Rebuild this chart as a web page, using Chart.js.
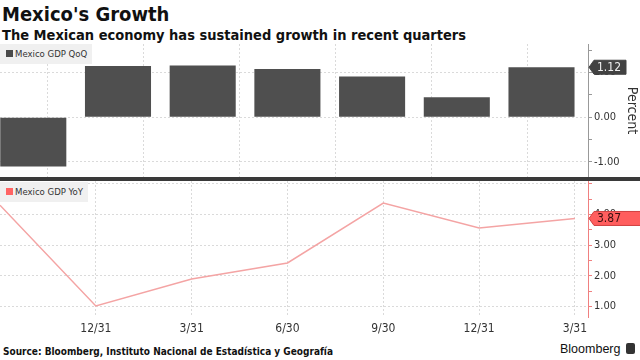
<!DOCTYPE html>
<html>
<head>
<meta charset="utf-8">
<script src="https://cdn.jsdelivr.net/npm/chart.js@4.4.0/dist/chart.umd.min.js"></script>
<style>
  body { margin: 0; width: 640px; height: 360px; background: #fff; position: relative; overflow: hidden;
         font-family: 'DejaVu Sans Condensed', 'DejaVu Sans', sans-serif; font-stretch: condensed; color: #222; }
  .abs { position: absolute; white-space: nowrap; }
  #title { left: 2px; top: 3px; font-weight: bold; font-size: 20px; line-height: 22px; color: #111; }
  #subtitle { left: 2px; top: 27px; font-weight: bold; font-size: 14.5px; line-height: 17px; color: #111; }
  #source { left: 3px; top: 346px; font-weight: bold; font-size: 10px; line-height: 12px; color: #111; }
  #brand { left: 560px; top: 342px; font-family: 'Liberation Sans', Arial, sans-serif; font-stretch: normal; font-size: 12.5px; line-height: 14px; color: #111; }
  #brand span { display: inline-block; width: 9px; height: 11px; background: #333; border-radius: 2px; margin-left: 6px; vertical-align: -1px; }
  #sep { left: 0; top: 177px; width: 640px; height: 4px; background: #3a3a3a; }
  .legend { height: 20px; background: #f0f0f0; font-size: 9.5px; line-height: 20px; color: #333; padding: 0 5px 0 6px; }
  .legend i { display: inline-block; width: 7px; height: 7px; margin-right: 2px; vertical-align: 0px; }
  canvas { position: absolute; left: 0; }
</style>
</head>
<body>
<div id="title" class="abs">Mexico's Growth</div>
<div id="subtitle" class="abs">The Mexican economy has sustained growth in recent quarters</div>

<canvas id="top" width="640" height="133" style="top:44px"></canvas>
<div id="sep" class="abs"></div>
<canvas id="bottom" width="640" height="159" style="top:181px"></canvas>

<div class="abs legend" style="left:0;top:44px"><i style="background:#4a4a4a"></i>Mexico GDP QoQ</div>
<div class="abs legend" style="left:0;top:182px"><i style="background:#ff6464"></i>Mexico GDP YoY</div>

<div id="source" class="abs">Source: Bloomberg, Instituto Nacional de Estadística y Geografía</div>
<div id="brand" class="abs">Bloomberg<span></span></div>

<script>
// quarter ends, oldest first (first one sits on the left edge, unlabeled)
const quarters = ['9/30', '12/31', '3/31', '6/30', '9/30', '12/31', '3/31'];
const gdpQoQ = [-1.10, 1.15, 1.16, 1.08, 0.91, 0.45, 1.12];
const gdpYoY = [4.30, 1.02, 1.90, 2.42, 4.37, 3.56, 3.87];

const fontFam = "'DejaVu Sans Condensed', 'DejaVu Sans', sans-serif";
const isInt = v => Math.abs(v - Math.round(v)) < 1e-6;
const halfSteps = a => { a.ticks = a.ticks.filter(t => isInt(t.value * 2)); };
const quarterTicks = a => { a.ticks = a.ticks.filter(t => isInt(t.value) && t.value > 0); };
// fixed-width right axis, no extra room reserved for the end labels
const rightAxisFit = s => { s.width = 52; s.paddingTop = 0; s.paddingBottom = 0; };
// whole numbers only, and nothing squeezed against the top edge
function axisLabel(v) { return isInt(v) && this.max - v > 0.25 ? v.toFixed(2) : ''; }

// small last-value tag sitting on the right axis
const lastTag = {
  id: 'lastTag',
  afterDraw(chart, args, o) {
    const pts = chart.data.datasets[0].data;
    const v = pts[pts.length - 1].y;
    const y = chart.scales.y.getPixelForValue(v);
    const x = chart.chartArea.right + 1;
    const c = chart.ctx;
    const h = 14, w = o.width;
    c.save();
    c.beginPath();
    c.moveTo(x, y);
    c.lineTo(x + 5, y - h / 2);
    c.lineTo(x + w, y - h / 2);
    c.lineTo(x + w, y + h / 2);
    c.lineTo(x + 5, y + h / 2);
    c.closePath();
    c.fillStyle = o.fill;
    c.fill();
    c.strokeStyle = o.stroke;
    c.lineWidth = 1;
    c.stroke();
    c.fillStyle = o.text;
    c.font = '12px ' + fontFam;
    c.textBaseline = 'middle';
    c.fillText(v.toFixed(2), x + 8, y + 0.5);
    c.restore();
  }
};

const gridColor = '#dadada';

new Chart(document.getElementById('top'), {
  type: 'bar',
  data: {
    datasets: [{
      data: gdpQoQ.map((v, i) => ({ x: i, y: v })),
      xAxisID: 'x',
      backgroundColor: '#4f4f4f',
      borderWidth: 0,
      barPercentage: 0.78,
      categoryPercentage: 1
    }]
  },
  options: {
    responsive: false,
    animation: false,
    layout: { padding: 0 },
    plugins: {
      legend: { display: false },
      tooltip: { enabled: false },
      lastTag: { fill: '#424242', stroke: '#424242', text: '#eee', width: 37 }
    },
    scales: {
      x: { type: 'linear', min: -0.393, max: 6.549, offset: false, display: false,
           ticks: { includeBounds: false } },
      xd: {
        type: 'linear', position: 'bottom', min: 0, max: 6.136, offset: false,
        afterBuildTicks: quarterTicks,
        afterFit: s => { s.height = 0; },
        ticks: { display: false, stepSize: 1, includeBounds: false },
        grid: { color: gridColor, drawTicks: false },
        border: { display: false, dash: [2, 2] }
      },
      y: {
        position: 'right', min: -1.336, max: 1.64,
        afterBuildTicks: halfSteps,
        afterFit: rightAxisFit,
        ticks: {
          stepSize: 0.5, padding: 2, color: '#333', includeBounds: false,
          font: { family: fontFam, size: 11 },
          callback: axisLabel
        },
        grid: {
          color: c => isInt(c.tick.value) ? gridColor : 'rgba(0,0,0,0)',
          tickColor: '#999', tickLength: 4
        },
        border: { display: true, color: '#999', width: 1, dash: [2, 2] },
        title: {
          display: true, text: 'Percent', color: '#333',
          font: { family: fontFam, size: 14 }, padding: 0
        }
      }
    }
  },
  plugins: [lastTag]
});

new Chart(document.getElementById('bottom'), {
  type: 'line',
  data: {
    datasets: [{
      data: gdpYoY.map((v, i) => ({ x: i, y: v })),
      borderColor: '#f4a4a4',
      borderWidth: 1.5,
      pointRadius: 0,
      tension: 0
    }]
  },
  options: {
    responsive: false,
    animation: false,
    layout: { padding: 0 },
    plugins: {
      legend: { display: false },
      tooltip: { enabled: false },
      lastTag: { fill: '#ff5e5e', stroke: '#d04040', text: '#3a1010', width: 52 }
    },
    scales: {
      x: {
        type: 'linear', min: 0, max: 6.136,
        afterBuildTicks: quarterTicks,
        afterFit: s => { s.height = 23; },
        ticks: {
          stepSize: 1, padding: 5, color: '#333', maxRotation: 0, includeBounds: false,
          autoSkip: false,
          font: { family: fontFam, size: 12 },
          callback: v => quarters[v]
        },
        grid: { color: gridColor, drawTicks: false },
        border: { display: false, dash: [2, 2] }
      },
      y: {
        position: 'right', min: 0.66, max: 5.09,
        afterBuildTicks: halfSteps,
        afterFit: rightAxisFit,
        ticks: {
          stepSize: 0.5, padding: 2, color: '#333', includeBounds: false,
          font: { family: fontFam, size: 11 },
          callback: axisLabel
        },
        grid: {
          color: c => isInt(c.tick.value) ? gridColor : 'rgba(0,0,0,0)',
          tickColor: '#f08080', tickLength: 4
        },
        border: { display: true, color: '#f08080', width: 1, dash: [2, 2] }
      }
    }
  },
  plugins: [lastTag]
});
</script>
</body>
</html>
